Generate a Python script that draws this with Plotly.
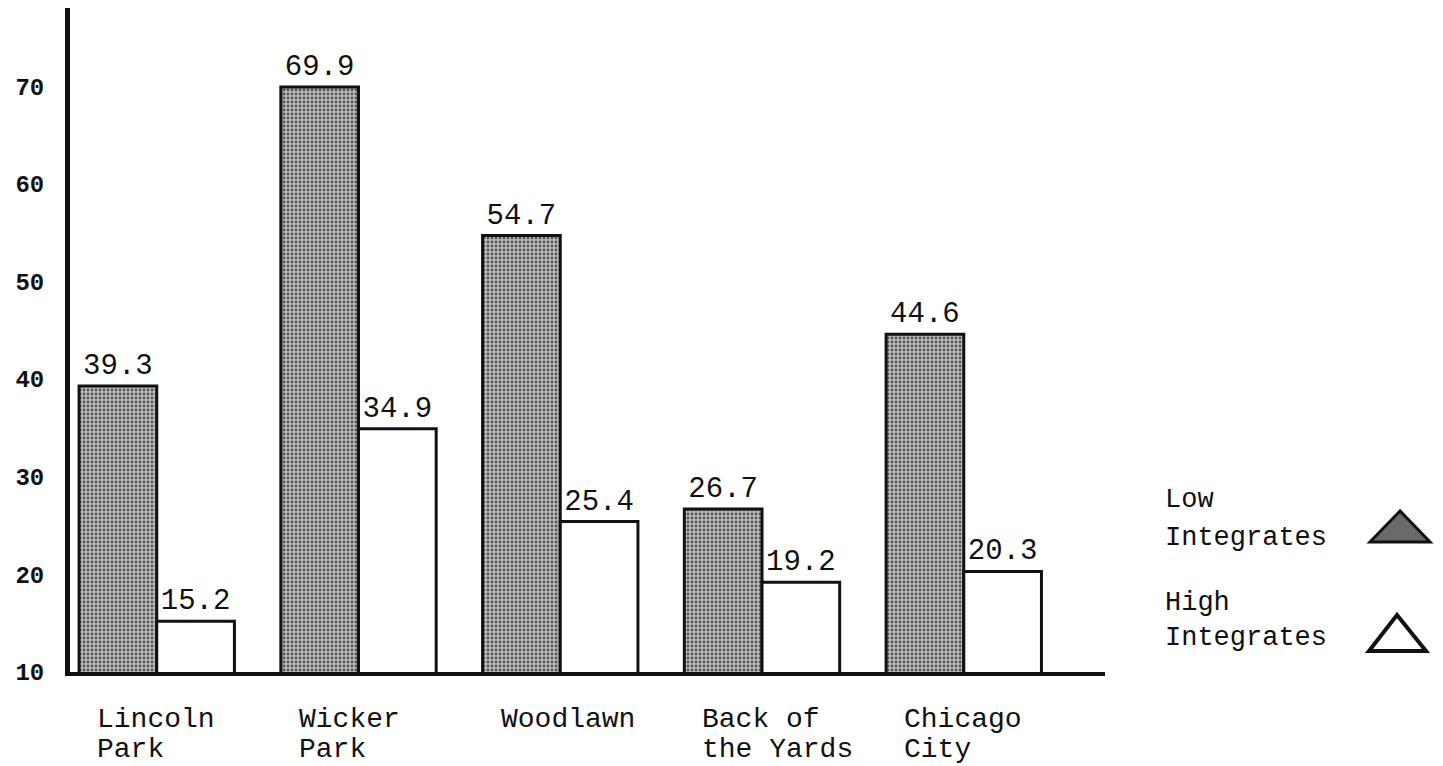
import plotly.graph_objects as go

categories = ["Lincoln Park", "Wicker Park", "Woodlawn", "Back of the Yards", "Chicago City"]
category_labels = ["Lincoln<br>Park", "Wicker<br>Park", "Woodlawn", "Back of<br>the Yards", "Chicago<br>City"]
low_integrates = [39.3, 69.9, 54.7, 26.7, 44.6]
high_integrates = [15.2, 34.9, 25.4, 19.2, 20.3]
y_ticks = [10, 20, 30, 40, 50, 60, 70]
series_names = ["Low Integrates", "High Integrates"]

W, H = 1443, 766
OFF = 8  # page body margin offset
# desired plot area in page pixels
PL, PR, PT, PB = 70, 1105, 8, 672
L, T = PL - OFF, PT - OFF
R = W - (PR - OFF)
B = H - (PB - OFF)
pw, ph = PR - PL, PB - PT

def px_x(p):
    return (p - PL) / pw

def px_y(p):
    return (PB - p) / ph

mono = "Liberation Mono, Courier New, monospace"
x_idx = list(range(len(categories)))
BARGAP = 0.23

fig = go.Figure()
fig.add_trace(go.Bar(
    x=x_idx, y=low_integrates, name=series_names[0],
    marker=dict(color="#a0a0a0",
                pattern=dict(shape=".", fgcolor="#555555", bgcolor="#bdbdbd",
                             size=4, solidity=0.4, fillmode="replace"),
                line=dict(color="#111", width=3)),
    text=[f"{v:.1f}" for v in low_integrates], textposition="outside",
    textfont=dict(family=mono, size=29, color="#111"), cliponaxis=False,
    showlegend=False,
))
fig.add_trace(go.Bar(
    x=x_idx, y=high_integrates, name=series_names[1],
    marker=dict(color="white", line=dict(color="#111", width=3)),
    text=[f"{v:.1f}" for v in high_integrates], textposition="outside",
    textfont=dict(family=mono, size=29, color="#111"), cliponaxis=False,
    showlegend=False,
))

# category labels: left aligned, starting a little right of each group's left edge
half_group = (1 - BARGAP) / 2
for i, lab in enumerate(category_labels):
    for j, line in enumerate(lab.split("<br>")):
        fig.add_annotation(x=i - half_group + 0.08, y=px_y(719 + 31 * j),
                           xref="x", yref="paper",
                           text=line, showarrow=False, xanchor="left",
                           yanchor="middle",
                           font=dict(family=mono, size=28, color="#111"))

# legend texts
legend_lines = [("Low", 500), ("Integrates", 538), ("High", 603), ("Integrates", 638)]
for txt, yy in legend_lines:
    fig.add_annotation(x=px_x(1163), y=px_y(yy), xref="paper", yref="paper",
                       text=txt, showarrow=False, xanchor="left", yanchor="middle",
                       font=dict(family=mono, size=27, color="#111"))

def tri(apex, left, right):
    return (f"M {px_x(apex[0])},{px_y(apex[1])} L {px_x(left[0])},{px_y(left[1])} "
            f"L {px_x(right[0])},{px_y(right[1])} Z")

fig.add_shape(type="path", xref="paper", yref="paper",
              path=tri((1400, 511), (1370, 542), (1430, 542)),
              fillcolor="#6a6a6a", line=dict(color="#111", width=3))
fig.add_shape(type="path", xref="paper", yref="paper",
              path=tri((1397, 615), (1369, 651), (1426, 651)),
              fillcolor="white", line=dict(color="#111", width=4))

fig.update_layout(
    width=W, height=H,
    margin=dict(l=L, r=R, t=T, b=B, pad=0),
    paper_bgcolor="white", plot_bgcolor="white",
    barmode="group", bargap=BARGAP, bargroupgap=0,
    showlegend=False,
    xaxis=dict(range=[-0.43, 4.70], showticklabels=False, ticks="",
               showgrid=False, zeroline=False, automargin=False,
               showline=True, linecolor="#111", linewidth=4),
    yaxis=dict(range=[10, 78], tickvals=y_ticks, ticks="", showgrid=False,
               zeroline=False, showline=True, linecolor="#111", linewidth=5,
               ticklabelstandoff=16, automargin=False,
               tickfont=dict(family=mono, size=24, color="#111", weight="bold")),
)

fig.write_html("out.html")
